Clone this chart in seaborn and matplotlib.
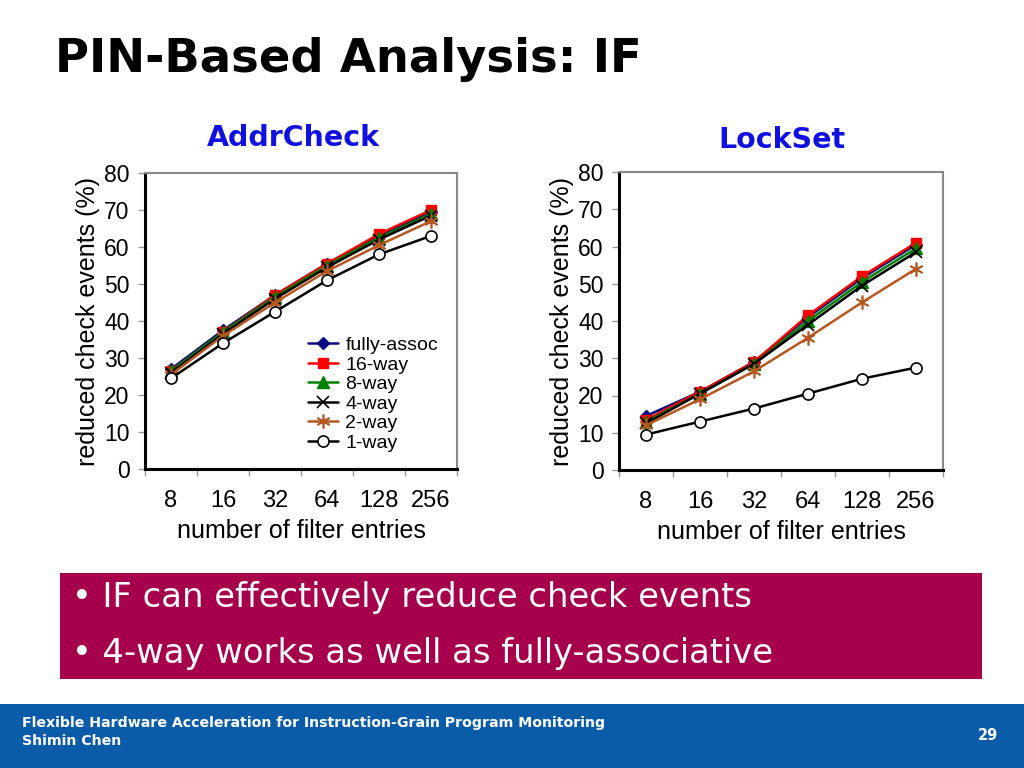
import numpy as np
import pandas as pd
import matplotlib
matplotlib.use("Agg")
import matplotlib.pyplot as plt
from matplotlib.patches import Rectangle
from matplotlib.ticker import FixedLocator
import seaborn as sns

# ---------------- data ----------------
entries = ["8", "16", "32", "64", "128", "256"]
series_names = ["fully-assoc", "16-way", "8-way", "4-way", "2-way", "1-way"]

addr_fully = [27, 37.5, 47, 55.5, 63, 69.5]
addr_16 = [26.5, 37, 47, 55.5, 63.5, 70]
addr_8 = [26.5, 37, 46.5, 55, 62.5, 69]
addr_4 = [26, 36.5, 46, 54.5, 62, 68.5]
addr_2 = [25.5, 36, 45, 53.5, 60.5, 67]
addr_1 = [24.5, 34, 42.5, 51, 58, 63]

lock_fully = [14.5, 21, 29, 41, 51.5, 60.5]
lock_16 = [13.5, 21, 29, 41.5, 52, 61]
lock_8 = [13, 20.5, 28.5, 40, 50.5, 59.5]
lock_4 = [12.5, 20.5, 28.5, 39, 49.5, 58.5]
lock_2 = [12, 19, 26.5, 35.5, 45, 54]
lock_1 = [9.5, 13, 16.5, 20.5, 24.5, 27.5]

yticks = [0, 10, 20, 30, 40, 50, 60, 70, 80]

title = "PIN-Based Analysis: IF"
panel_titles = ["AddrCheck", "LockSet"]
ylabel = "reduced check events (%)"
xlabel = "number of filter entries"
bullets = ["IF can effectively reduce check events",
           "4-way works as well as fully-associative"]
footer1 = "Flexible Hardware Acceleration for Instruction-Grain Program Monitoring"
footer2 = "Shimin Chen"
page_no = "29"

# ---------------- styles ----------------
styles = {
    "fully-assoc": dict(color="#0a0a80", marker="D", ms=6.5, mfc="#0a0a80", mec="#0a0a80"),
    "16-way": dict(color="#ff0000", marker="s", ms=7.5, mfc="#ff0000", mec="#ff0000"),
    "8-way": dict(color="#008000", marker="^", ms=8, mfc="#008000", mec="#008000"),
    "4-way": dict(color="#000000", marker="x", ms=8.5, mfc="#000000", mec="#000000", mew=1.2),
    "2-way": dict(color="#b8561f", marker=(6, 2, 0), ms=10, mfc="#b8561f", mec="#b8561f", mew=1.2),
    "1-way": dict(color="#000000", marker="o", ms=8, mfc="white", mec="#000000", mew=1.2),
}

sns.set_theme(style="white")
plt.rcParams["font.family"] = ["Liberation Sans", "DejaVu Sans"]
plt.rcParams["text.color"] = "black"
plt.rcParams["axes.labelcolor"] = "black"
plt.rcParams["xtick.color"] = "black"
plt.rcParams["ytick.color"] = "black"

fig = plt.figure(figsize=(10.24, 7.68), dpi=100)
fig.patch.set_facecolor("white")

def px_axes(x0, y0, x1, y1):
    W, H = 1024, 768
    return fig.add_axes([x0 / W, 1 - y1 / H, (x1 - x0) / W, (y1 - y0) / H])

ax_l = px_axes(145, 173, 457, 469)
ax_r = px_axes(619, 172, 943, 470)

datasets = [
    [addr_fully, addr_16, addr_8, addr_4, addr_2, addr_1],
    [lock_fully, lock_16, lock_8, lock_4, lock_2, lock_1],
]

xpos = np.arange(len(entries))
for ax, data in zip([ax_l, ax_r], datasets):
    for name, vals in zip(series_names, data):
        st = styles[name]
        df = pd.DataFrame({"x": xpos, "y": vals})
        sns.lineplot(data=df, x="x", y="y", ax=ax, color=st["color"], lw=1.8,
                     marker=st["marker"], markersize=st["ms"],
                     markerfacecolor=st["mfc"], markeredgecolor=st["mec"],
                     markeredgewidth=st.get("mew", 1.0), label=name)
    ax.set_xlim(-0.5, len(entries) - 0.5)
    ax.set_ylim(0, 80)
    ax.set_yticks(yticks)
    ax.set_yticklabels([str(v) for v in yticks], fontsize=16.5, color="black")
    ax.set_xticks(xpos)
    ax.set_xticklabels(entries, fontsize=17, color="black")
    ax.xaxis.set_minor_locator(FixedLocator(np.arange(-0.5, len(entries), 1.0)))
    ax.tick_params(axis="x", which="major", length=0, pad=15, labelcolor="black")
    ax.tick_params(axis="x", which="minor", length=5, width=1, color="#999999",
                   direction="out", bottom=True)
    ax.tick_params(axis="y", which="major", length=5, width=1, color="#999999",
                   direction="out", left=True, pad=6, labelcolor="black")
    ax.set_xlabel(xlabel, fontsize=18, labelpad=5, color="black")
    ax.set_ylabel(ylabel, fontsize=18, labelpad=3, color="black")
    for s in ["left", "bottom"]:
        ax.spines[s].set_color("black")
        ax.spines[s].set_linewidth(2.2)
    for s in ["top", "right"]:
        ax.spines[s].set_color("#888888")
        ax.spines[s].set_linewidth(1.5)
    ax.set_facecolor("white")
    ax.grid(False)

leg = ax_l.legend(loc="lower left", bbox_to_anchor=(0.48, 0.012), frameon=False,
                  fontsize=14, labelspacing=0.1, handlelength=1.5,
                  handletextpad=0.4, borderpad=0.2)
for t in leg.get_texts():
    t.set_color("black")
ax_r.get_legend().remove()

# titles
fig.text(55 / 1024, 1 - 60 / 768, title, fontsize=33.5, fontweight="bold",
         family=["DejaVu Sans"], va="center", ha="left", color="black")
fig.text(293 / 1024, 1 - 138 / 768, panel_titles[0], fontsize=20.5, fontweight="bold",
         family=["DejaVu Sans"], va="center", ha="center", color="#1010e0")
fig.text(782 / 1024, 1 - 140 / 768, panel_titles[1], fontsize=20.5, fontweight="bold",
         family=["DejaVu Sans"], va="center", ha="center", color="#1010e0")

# bullet box
fig.patches.append(Rectangle((60 / 1024, 1 - 679 / 768), (982 - 60) / 1024, (679 - 573) / 768,
                             transform=fig.transFigure, facecolor="#a6004c",
                             edgecolor="none", zorder=0))
for i, b in enumerate(bullets):
    yy = [597, 653][i]
    fig.text(72 / 1024, 1 - yy / 768, "\u2022 " + b, fontsize=24.3, color="white",
             family=["DejaVu Sans"], va="center", ha="left")

# footer
fig.patches.append(Rectangle((0, 0), 1, 64 / 768, transform=fig.transFigure,
                             facecolor="#0b5ca8", edgecolor="none", zorder=0))
fig.text(22 / 1024, 1 - 723 / 768, footer1, fontsize=10.2, fontweight="bold", color="white",
         family=["DejaVu Sans"], va="center", ha="left")
fig.text(22 / 1024, 1 - 741 / 768, footer2, fontsize=10.2, fontweight="bold", color="white",
         family=["DejaVu Sans"], va="center", ha="left")
fig.text(988 / 1024, 1 - 736 / 768, page_no, fontsize=10.5, fontweight="bold", color="white",
         family=["DejaVu Sans"], va="center", ha="center")

fig.savefig("out.png", dpi=100, facecolor="white")
